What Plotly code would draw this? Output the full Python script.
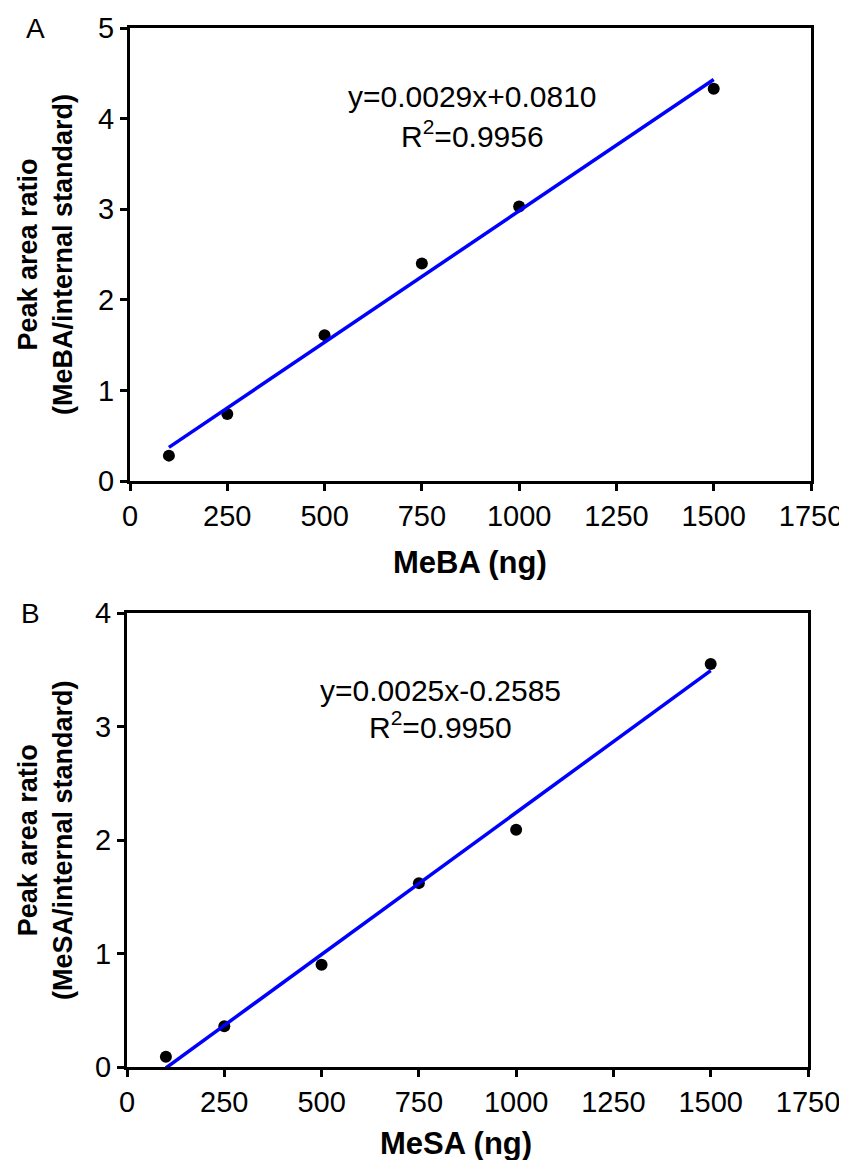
import plotly.graph_objects as go
import numpy as np

OFF = 8  # page body margin offset
W, H = 847 - OFF, 1160 - OFF

# Panel A data (MeBA)
meba_ng = [100, 250, 500, 750, 1000, 1500]
meba_ratio = [0.28, 0.74, 1.61, 2.40, 3.03, 4.33]
meba_slope, meba_intercept = 0.0029, 0.0810
meba_eq = "y=0.0029x+0.0810"
meba_r2 = "R<sup>2</sup>=0.9956"

# Panel B data (MeSA)
mesa_ng = [100, 250, 500, 750, 1000, 1500]
mesa_ratio = [0.09, 0.36, 0.90, 1.62, 2.09, 3.55]
mesa_slope, mesa_intercept = 0.0025, -0.2585
mesa_eq = "y=0.0025x-0.2585"
mesa_r2 = "R<sup>2</sup>=0.9950"

x_ticks = [0, 250, 500, 750, 1000, 1250, 1500, 1750]

FONT = "Liberation Sans, Arial, sans-serif"

def px(x):
    return (x - OFF) / W

def py(y):
    return 1 - (y - OFF) / H

fig = go.Figure()

def add_panel(xs, ys, slope, intercept, xa, ya):
    fig.add_trace(go.Scatter(x=xs, y=ys, mode="markers",
                             marker=dict(color="black", size=12),
                             xaxis=xa, yaxis=ya, showlegend=False))
    lx = np.array([min(xs), max(xs)], dtype=float)
    ly = slope * lx + intercept
    fig.add_trace(go.Scatter(x=lx, y=ly, mode="lines",
                             line=dict(color="#0000FF", width=3.5),
                             xaxis=xa, yaxis=ya, showlegend=False))

add_panel(meba_ng, meba_ratio, meba_slope, meba_intercept, "x", "y")
add_panel(mesa_ng, mesa_ratio, mesa_slope, mesa_intercept, "x2", "y2")

axis_common = dict(showline=True, linecolor="black", linewidth=3, mirror=True,
                   ticks="outside", ticklen=7, tickwidth=2.5, tickcolor="black",
                   showgrid=False, zeroline=False, automargin=False,
                   tickfont=dict(family=FONT, size=29, color="black"))

fig.update_layout(
    template="none",
    width=W, height=H,
    autosize=False,
    margin=dict(l=0, r=0, t=0, b=0, pad=0),
    plot_bgcolor="white", paper_bgcolor="white",
    xaxis=dict(domain=[px(130), px(811)], range=[0, 1750], tickvals=x_ticks,
               anchor="y", **axis_common),
    yaxis=dict(domain=[py(481), py(28)], range=[0, 5], tickvals=[0, 1, 2, 3, 4, 5],
               anchor="x", **axis_common),
    xaxis2=dict(domain=[px(127), px(808)], range=[0, 1750], tickvals=x_ticks,
                anchor="y2", **axis_common),
    yaxis2=dict(domain=[py(1067), py(613)], range=[0, 4], tickvals=[0, 1, 2, 3, 4],
                anchor="x2", **axis_common),
)

ann = []
def text(x, y, s, size, angle=0):
    ann.append(dict(x=px(x), y=py(y), xref="paper", yref="paper", text=s,
                    showarrow=False, textangle=angle,
                    font=dict(family=FONT, size=size, color="black"),
                    xanchor="center", yanchor="middle"))

# panel labels
text(35, 28, "A", 28)
text(30, 613, "B", 28)
# equations
text(472, 97, meba_eq, 30)
text(472, 134, meba_r2, 30)
text(440, 690, mesa_eq, 30)
text(440, 725, mesa_r2, 30)
# x titles
text(470, 562, "<b>MeBA (ng)</b>", 31)
text(456, 1143, "<b>MeSA (ng)</b>", 31)
# y titles
text(45, 255, "<b>Peak area ratio<br>(MeBA/internal standard)</b>", 27, angle=-90)
text(45, 840, "<b>Peak area ratio<br>(MeSA/internal standard)</b>", 27, angle=-90)

fig.update_layout(annotations=ann)
fig.write_html("out.html")
